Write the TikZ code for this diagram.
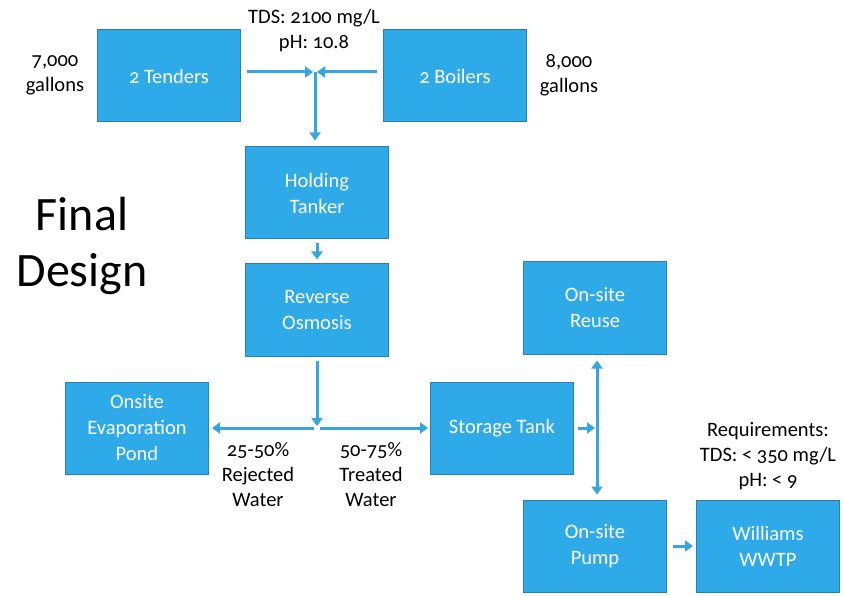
\documentclass[tikz,border=0pt]{standalone}
\usepackage{fontspec}
\setmainfont{Carlito}[Numbers=OldStyle]
\usetikzlibrary{arrows.meta}
\definecolor{boxblue}{HTML}{2FAAE8}
\definecolor{boxedge}{HTML}{2A7FB2}
\definecolor{arrowblue}{HTML}{36A5E0}
\begin{document}
\begin{tikzpicture}[x=1pt,y=-1pt,
  box/.style={draw=boxedge, line width=1pt, fill=boxblue, text=white,
    minimum width=143pt, minimum height=92pt, align=center,
    font=\fontsize{20.5}{26}\selectfont, inner sep=0pt},
  lbl/.style={align=center, font=\fontsize{20.5}{25}\selectfont, inner sep=0pt},
  flow/.style={arrowblue, line width=3pt, -{Triangle[width=11pt,length=8pt]}},
  bflow/.style={arrowblue, line width=3pt, {Triangle[width=11pt,length=8pt]}-{Triangle[width=11pt,length=8pt]}}]
\useasboundingbox (0,0) rectangle (844,596);

% boxes
\node[box] (ten) at (169,76) {2 Tenders};
\node[box] (boi) at (455,76) {2 Boilers};
\node[box] (hold) at (317,193) {Holding\\Tanker};
\node[box] (ro) at (317,310) {Reverse\\Osmosis};
\node[box] (pond) at (137,428) {Onsite\\Evaporation\\Pond};
\node[box] (st) at (502,428) {Storage Tank};
\node[box] (reuse) at (595,308) {On-site\\Reuse};
\node[box] (pump) at (595,546) {On-site\\Pump};
\node[box] (ww) at (768,546) {Williams\\WWTP};

% labels
\node[lbl] (tds) at (314,31) {TDS: 2100 mg/L\\pH: 10.8};
\node[lbl] (g7) at (55,75) {7,000\\gallons};
\node[lbl] (g8) at (569,75) {8,000\\gallons};
\node[lbl] (rej) at (258,475) {25-50\%\\Rejected\\Water};
\node[lbl] (trt) at (371,475) {50-75\%\\Treated\\Water};
\node[lbl] (req) at (768,456) {Requirements:\\TDS: < 350 mg/L\\pH: < 9};
\node[align=center, inner sep=0pt, font=\fontsize{48}{56}\selectfont] (fd) at (82,246) {Final\\Design};

% junctions
\coordinate (j1) at (315,72);
\coordinate (j2) at (317,428);
\coordinate (j3) at (597,428);

% connectors
\draw[flow, shorten >=2pt] ([xshift=6pt]ten.east |- j1) -- (j1);
\draw[flow, shorten >=2pt] ([xshift=-6pt]boi.west |- j1) -- (j1);
\draw[flow, shorten >=6pt] (j1) -- (j1 |- hold.north);
\draw[flow, shorten <=4pt, shorten >=4pt] (hold) -- (ro);
\draw[flow, shorten <=4pt, shorten >=2pt] (ro.south) -- (j2);
\draw[flow, shorten <=3pt, shorten >=3pt] (j2) -- (pond.east);
\draw[flow, shorten <=3pt, shorten >=2pt] (j2) -- (st.west);
\draw[flow, shorten <=4pt, shorten >=2pt] (st.east) -- (j3);
\draw[bflow, shorten <=6pt, shorten >=5pt] (j3 |- reuse.south) -- (j3 |- pump.north);
\draw[flow, shorten <=6pt, shorten >=3pt] (pump.east) -- (ww.west);
\end{tikzpicture}
\end{document}
